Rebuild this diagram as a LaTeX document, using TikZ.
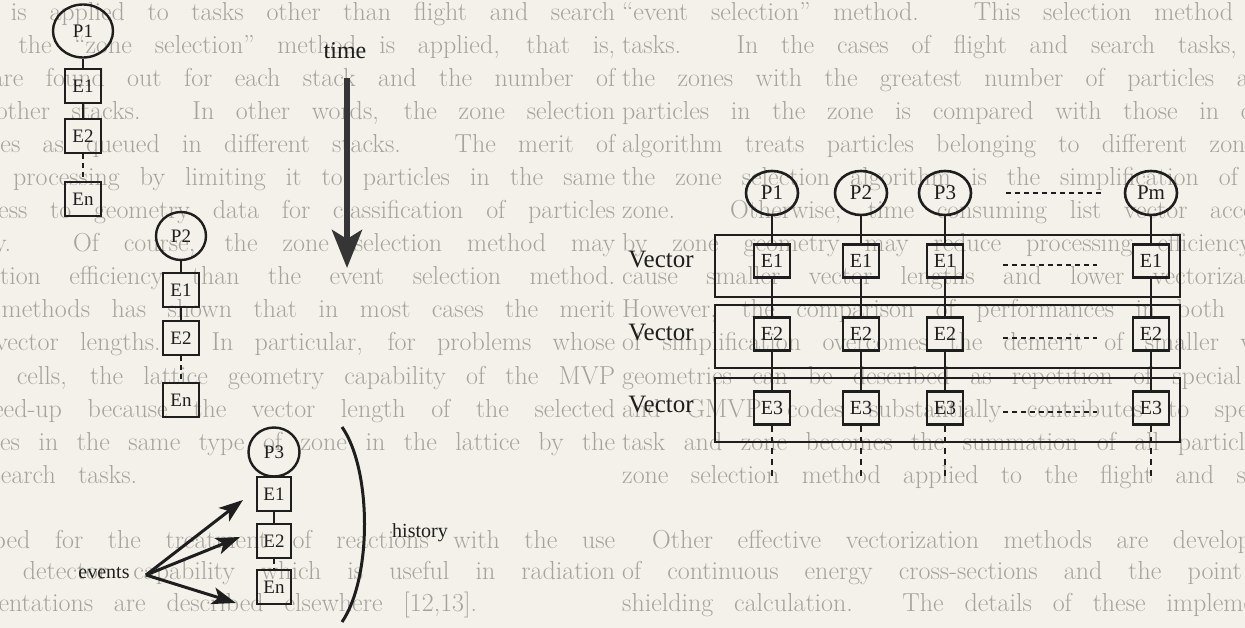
\documentclass[tikz,border=0pt]{standalone}
\usepackage{fontspec}
\newfontfamily\dfont{Liberation Serif}
\usetikzlibrary{shapes.geometric,arrows.meta}
\definecolor{paper}{RGB}{243,241,233}
\definecolor{ink}{RGB}{30,30,30}
\definecolor{bgtext}{RGB}{165,163,156}
\newcommand{\bgjust}[3]{%
  \node[bgt] (#1a) at (622,#2) {\makebox[1238pt][s]{#3}};
  \node[bgt] (#1b) at (-623,#2) {\makebox[1238pt][s]{#3}};}
\newcommand{\bgpart}[4]{%
  \node[bgt] (#1a) at (622,#2) {\makebox[#3][s]{#4}};
  \node[bgt] (#1b) at (-623,#2) {\makebox[#3][s]{#4}};}
\begin{document}
\begin{tikzpicture}[x=1pt,y=-1pt,
  bgt/.style={anchor=base west,inner sep=0pt,text=bgtext,font=\fontsize{26}{30}\selectfont},
  pL/.style={ellipse,draw=ink,line width=2.4pt,inner sep=0pt,text=ink,font=\dfont\fontsize{19}{19}\selectfont},
  eL/.style={rectangle,draw=ink,line width=2.4pt,inner sep=0pt,minimum width=36pt,minimum height=34pt,text=ink,font=\dfont\fontsize{19}{19}\selectfont},
  pR/.style={ellipse,draw=ink,line width=2.6pt,inner sep=0pt,minimum width=52pt,minimum height=44pt,text=ink,font=\dfont\fontsize{21}{21}\selectfont},
  eR/.style={rectangle,draw=ink,line width=2.6pt,inner sep=0pt,minimum width=36pt,minimum height=33pt,text=ink,font=\dfont\fontsize{20}{20}\selectfont},
  rowbox/.style={rectangle,draw=ink,line width=2.8pt,inner sep=0pt,minimum width=465pt},
  lbl/.style={inner sep=0pt,text=ink,font=\dfont\fontsize{24}{24}\selectfont},
  smlbl/.style={inner sep=0pt,text=ink,font=\dfont\fontsize{20}{20}\selectfont},
  conn/.style={draw=ink,line width=2.4pt},
  dconn/.style={draw=ink,line width=2.6pt,dash pattern=on 5pt off 4pt},
  evarrow/.style={draw=ink,line width=3pt,-{Stealth[length=24pt,width=17pt,inset=6pt]}}
]
\useasboundingbox (0,0) rectangle (1245,628);
\fill[paper] (0,0) rectangle (1245,628);
\begin{scope}
\clip (0,0) rectangle (1245,628);
\bgjust{l1}{21}{“event selection” method. This selection method is applied to tasks other than flight and search}
\bgjust{l2}{54}{tasks. In the cases of flight and search tasks, the “zone selection” method is applied, that is,}
\bgjust{l3}{87}{the zones with the greatest number of particles are found out for each stack and the number of}
\bgjust{l4}{120}{particles in the zone is compared with those in other stacks. In other words, the zone selection}
\bgjust{l5}{153}{algorithm treats particles belonging to different zones as queued in different stacks. The merit of}
\bgjust{l6}{186}{the zone selection algorithm is the simplification of processing by limiting it to particles in the same}
\bgjust{l7}{219}{zone. Otherwise, time consuming list vector access to geometry data for classification of particles}
\bgjust{l8}{252}{by zone geometry may reduce processing efficiency. Of course, the zone selection method may}
\bgjust{l9}{285}{cause smaller vector lengths and lower vectorization efficiency than the event selection method.}
\bgjust{l10}{318}{However, the comparison of performances in both methods has shown that in most cases the merit}
\bgjust{l11}{351}{of simplification overcomes the demerit of smaller vector lengths. In particular, for problems whose}
\bgjust{l12}{384}{geometries can be described as repetition of special cells, the lattice geometry capability of the MVP}
\bgjust{l13}{417}{and GMVP codes substantially contributes to speed-up because the vector length of the selected}
\bgjust{l14}{450}{task and zone becomes the summation of all particles in the same type of zone in the lattice by the}
\bgpart{l15}{483}{760pt}{zone selection method applied to the flight and search tasks.}
\bgjust{l16}{548}{\hspace*{30pt}Other effective vectorization methods are developed for the treatment of reactions with the use}
\bgjust{l17}{579}{of continuous energy cross-sections and the point detector capability which is useful in radiation}
\bgpart{l18}{611}{1100pt}{shielding calculation. The details of these implementations are described elsewhere [12,13].}
\end{scope}

% ---- left: particle stacks ----
\node[pL,minimum width=60pt,minimum height=53pt] (a0) at (83,31) {P1};
\node[eL] (a1) at (83,86) {E1};
\node[eL] (a2) at (83,136) {E2};
\node[eL] (an) at (83,199) {En};
\draw[conn] (a0) -- (a1);
\draw[conn] (a1) -- (a2);
\draw[dconn] (a2) -- (an);

\node[pL,minimum width=50pt,minimum height=48pt] (b0) at (181,236) {P2};
\node[eL] (b1) at (181,290) {E1};
\node[eL] (b2) at (181,338) {E2};
\node[eL] (bn) at (181,400) {En};
\draw[conn] (b0) -- (b1);
\draw[conn] (b1) -- (b2);
\draw[dconn] (b2) -- (bn);

\node[pL,minimum width=51pt,minimum height=49pt] (c0) at (274,452) {P3};
\node[eL,minimum width=34pt] (c1) at (274,494) {E1};
\node[eL,minimum width=34pt] (c2) at (274,541) {E2};
\node[eL,minimum width=34pt] (cn) at (274,587) {En};
\draw[conn] (c0) -- (c1);
\draw[conn] (c1) -- (c2);
\draw[dconn] (c2) -- (cn);

% time arrow
\node[lbl] (time) at (345,51) {time};
\coordinate (tA) at (347,78);
\coordinate (tB) at (347,268);
\draw[draw=ink!90,line width=6pt,-{Stealth[length=38pt,width=30pt,inset=9pt]}] (tA) -- (tB);

% events
\node[smlbl] (events) at (104,573) {events};
\coordinate (evo) at (146,575);
\coordinate (ev1) at (243,500);
\coordinate (ev2) at (240,537);
\coordinate (ev3) at (236,603);
\draw[evarrow] (evo) -- (ev1);
\draw[evarrow] (evo) -- (ev2);
\draw[evarrow] (evo) -- (ev3);

% history bracket
\coordinate (hb1) at (342,427);
\coordinate (hb2) at (342,622);
\draw[draw=ink,line width=3pt] (hb1) .. controls (372,470) and (372,578) .. (hb2);
\node[smlbl] (history) at (420,533) {history};

% ---- right: vectors ----
\node[rowbox,minimum height=62pt] (row1) at (947.5,266) {};
\node[rowbox,minimum height=63pt] (row2) at (947.5,336.5) {};
\node[rowbox,minimum height=64pt] (row3) at (947.5,410) {};

\node[lbl,font=\dfont\fontsize{25}{25}\selectfont] (v1) at (661,260) {Vector};
\node[lbl,font=\dfont\fontsize{25}{25}\selectfont] (v2) at (661,333) {Vector};
\node[lbl,font=\dfont\fontsize{25}{25}\selectfont] (v3) at (661,405) {Vector};

\foreach \n/\x/\p in {1/772/P1,2/861/P2,3/945/P3,4/1151/Pm}{
  \node[pR] (p\n) at (\x,193) {\p};
  \node[eR] (e\n1) at (\x,261) {E1};
  \node[eR] (e\n2) at (\x,334) {E2};
  \node[eR] (e\n3) at (\x,408) {E3};
  \coordinate (d\n) at (\x,476);
  \draw[conn] (p\n) -- (e\n1);
  \draw[conn] (e\n1) -- (e\n2);
  \draw[conn] (e\n2) -- (e\n3);
  \draw[dconn,dash pattern=on 6pt off 5pt] (e\n3) -- (d\n);
}

\coordinate (hp1) at (1006,193); \coordinate (hp2) at (1102,193);
\coordinate (h11) at (1003,265); \coordinate (h12) at (1097,265);
\coordinate (h21) at (1003,338); \coordinate (h22) at (1097,338);
\coordinate (h31) at (1003,412); \coordinate (h32) at (1097,412);
\draw[dconn] (hp1) -- (hp2);
\draw[dconn] (h11) -- (h12);
\draw[dconn] (h21) -- (h22);
\draw[dconn] (h31) -- (h32);
\end{tikzpicture}
\end{document}
